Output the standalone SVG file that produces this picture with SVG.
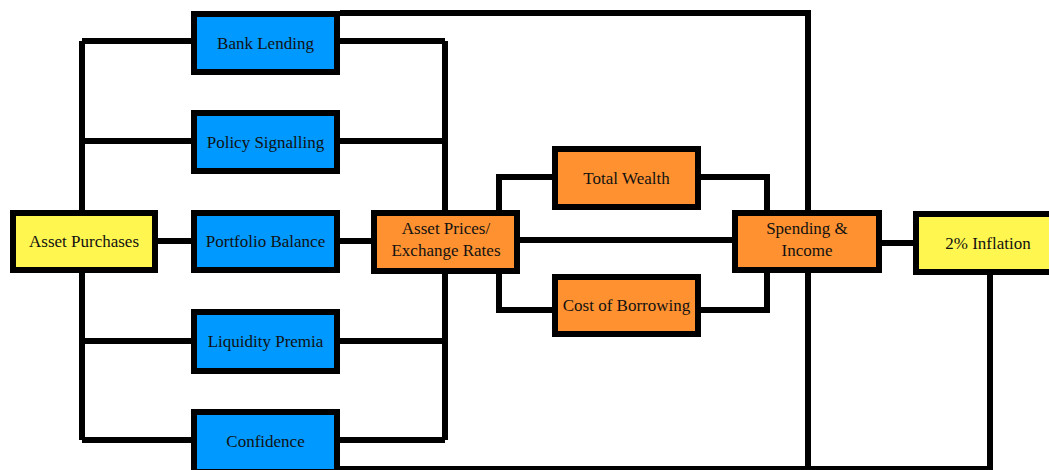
<svg xmlns="http://www.w3.org/2000/svg" width="1049" height="470" viewBox="0 0 1049 470">
<style>
.box{stroke:#000;stroke-width:6;stroke-linejoin:miter}
.y{fill:#FFF74F}
.b{fill:#0099FF}
.o{fill:#FF9130}
.t{font-family:"Liberation Serif","Times New Roman",serif;font-size:17px;fill:#111;text-anchor:middle}
#connectors path{fill:none;stroke:#000;stroke-width:6;stroke-linejoin:miter;stroke-linecap:butt}
</style>
<rect width="1049" height="470" fill="#fff"/>
<g id="connectors">
<path d="M82 41 V440"/>
<path d="M82 41 H191 M82 141 H191 M82 341 H191 M82 440 H191 M158 241 H191"/>
<path d="M445 41 V440"/>
<path d="M340 41 H445 M340 141 H445 M340 341 H445 M340 440 H445 M340 241 H371"/>
<path d="M340 13 H808 V210"/>
<path d="M340 469 H990 V275"/>
<path d="M808 273 V469"/>
<path d="M499 210 V177 H552"/>
<path d="M701 177 H767 V210"/>
<path d="M499 274 V310 H552"/>
<path d="M701 310 H767 V273"/>
<path d="M520 240 H732"/>
<path d="M882 243 H913"/>
</g>
<g id="asset-purchases"><rect class="box y" x="13" y="213" width="142" height="57"/><text class="t" x="84" y="247">Asset Purchases</text></g>
<g id="bank-lending"><rect class="box b" x="194" y="14" width="143" height="58"/><text class="t" x="265.5" y="48.5">Bank Lending</text></g>
<g id="policy-signalling"><rect class="box b" x="194" y="113" width="143" height="58"/><text class="t" x="265.5" y="147.5">Policy Signalling</text></g>
<g id="portfolio-balance"><rect class="box b" x="194" y="213" width="143" height="57"/><text class="t" x="265.5" y="247">Portfolio Balance</text></g>
<g id="liquidity-premia"><rect class="box b" x="194" y="312" width="143" height="59"/><text class="t" x="265.5" y="347">Liquidity Premia</text></g>
<g id="confidence"><rect class="box b" x="194" y="412" width="143" height="60"/><text class="t" x="265.5" y="446.5">Confidence</text></g>
<g id="asset-prices"><rect class="box o" x="374" y="213" width="143" height="58"/><text class="t" x="446" y="234">Asset Prices/</text><text class="t" x="446" y="256">Exchange Rates</text></g>
<g id="total-wealth"><rect class="box o" x="555" y="149" width="143" height="58"/><text class="t" x="626.5" y="183.5">Total Wealth</text></g>
<g id="cost-of-borrowing"><rect class="box o" x="555" y="277" width="143" height="57"/><text class="t" x="626.5" y="311">Cost of Borrowing</text></g>
<g id="spending-income"><rect class="box o" x="735" y="213" width="144" height="57"/><text class="t" x="807" y="234">Spending &amp;</text><text class="t" x="807" y="256">Income</text></g>
<g id="inflation"><rect class="box y" x="916" y="214" width="144" height="58"/><text class="t" x="988" y="249">2% Inflation</text></g>
</svg>
